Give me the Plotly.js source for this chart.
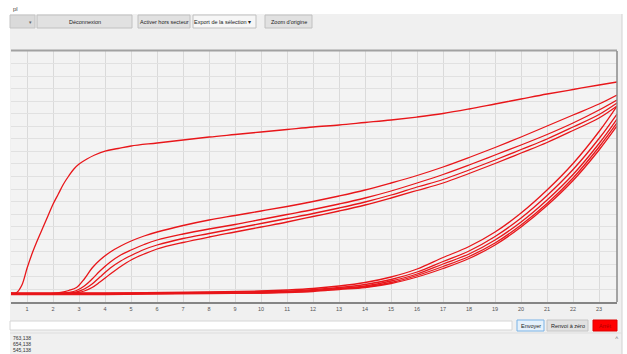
<!DOCTYPE html>
<html>
<head>
<meta charset="utf-8">
<script src="https://cdn.plot.ly/plotly-3.0.1.min.js"></script>
<style>
html,body{margin:0;padding:0;background:#fff;}
#chart{width:627px;height:354px;}
</style>
</head>
<body>
<div id="chart"></div>
<script>
// ---- data (x = cycle, y = raw signal, arbitrary units) ----
const tickValues = [1,2,3,4,5,6,7,8,9,10,11,12,13,14,15,16,17,18,19,20,21,22,23];
const tickLabels = ["1","2","3","4","5","6","7","8","9","10","11","12","13","14","15","16","17","18","19","20","21","22","23"];

const curveA_x = [0.38,0.6,0.8,1.0,1.2,1.4,1.6,1.8,2.0,2.2,2.4,2.6,2.8,3.0,3.3,3.6,4.0,4.5,5,6,7,8,9,10,11,12,13,14,15,16,17,18,19,20,21,22,23,23.69];
const curveA_y = [9,9.5,17,34,49,62,74,86,98,108,118,126,133,138,143,147,151,153.5,156,159,162,165,167.5,170,172.5,175,177,179.5,182,185,188.5,193,198,203,208,212.5,217,220];

const groupB_x = [0.38,1.5,2.0,2.3,2.6,2.9,3.2,3.5,3.8,4.2,4.6,5,5.5,6,7,8,9,10,11,12,13,14,15,16,17,18,19,20,21,22,23,23.69];
const curveB1_y = [8,8,8.5,9.5,11.5,14.5,23,34,42,50,56,61,66,70,76.5,82,86.5,91,95.5,100.5,106,112,119,126.5,135,144.5,154.5,165,176,187,198,207];
const curveB2_y = [8,8,8,8.5,9.5,11.5,16,23,31,40,47,52,57.5,62,68,73,77.5,82.5,87.5,92.5,98,104,111,119,127.5,137,147,157,167.5,179,192,202];
const curveB3_y = [8,8,8,8,8.5,10,13,18,25,34,41,46.5,52.5,57,63.5,68.5,73.5,78.5,83.5,88.5,94,100,107,115,122.5,132,142,152.5,163,175,187.5,199];
const curveB4_y = [8,8,8,8,8,9,11,14.5,20,28,35.5,42,48,53,59.5,65,70,75,80,85.5,91,97,104,111.5,119,128.5,138.5,149,159.5,171.5,184,196];

const groupC_x = [0.38,4,8,10,11,12,13,14,15,16,17,18,19,20,21,22,23,23.69];
const curveC1_y = [9,9,10,11,12,13.5,16,19.5,25,33,44.5,55.5,70,89,112,138.5,170.5,196];
const curveC2_y = [8.5,8.5,9.5,10.5,11,12.5,14.5,17.5,22.5,30,40.5,51,65.5,84,106.5,132.5,163.5,188];
const curveC3_y = [8,8,9,9.5,10.5,11.5,13.5,16,21,28,38,48,62,80,102,127.5,158.5,183];
const curveC4_y = [8,8,9,9,10,11,13,15,19.5,26.5,35.5,45.5,59,77,98.5,124,155,179];
const curveC5_y = [7.5,7.5,8.5,9,9.5,10.5,12.5,14.5,18.5,25,33.5,43.5,57,75,96.5,121.5,152,176];

const logLines = ["763,138","654,138","545,138"];

// ---- layout helpers (pixel -> paper coordinates) ----
const W = 627, H = 354, L = 11, R = 617, T = 51, B = 302;
const px = v => (v - L) / (R - L);
const py = v => (B - v) / (B - T);

const red = 'rgb(232,22,26)';
function curve(x, y){
  return {x:x, y:y, type:'scatter', mode:'lines', line:{color:red, width:1.3, shape:'spline', smoothing:1}, hoverinfo:'skip', showlegend:false};
}
const traces = [
  curve(curveA_x, curveA_y),
  curve(groupB_x, curveB1_y), curve(groupB_x, curveB2_y), curve(groupB_x, curveB3_y), curve(groupB_x, curveB4_y),
  curve(groupC_x, curveC1_y), curve(groupC_x, curveC2_y), curve(groupC_x, curveC3_y), curve(groupC_x, curveC4_y), curve(groupC_x, curveC5_y)
];

function rect(x0,y0,x1,y1,fill,line,lw){
  return {type:'rect', xref:'paper', yref:'paper', x0:px(x0), x1:px(x1), y0:py(y1), y1:py(y0),
          fillcolor:fill, line:{color:line||fill, width:(lw===undefined?1:lw)}, layer:'above'};
}
function hline(x0,x1,y,color,w){
  return {type:'line', xref:'paper', yref:'paper', x0:px(x0), x1:px(x1), y0:py(y), y1:py(y), line:{color:color,width:w}};
}
function vline(x,y0,y1,color,w){
  return {type:'line', xref:'paper', yref:'paper', x0:px(x), x1:px(x), y0:py(y0), y1:py(y1), line:{color:color,width:w}};
}
function label(x,y,text,opts){
  opts = opts || {};
  return {xref:'paper', yref:'paper', x:px(x), y:py(y), text:text, showarrow:false,
          xanchor:opts.xanchor||'center', yanchor:'middle',
          font:{family:'Liberation Sans, Arial, sans-serif', size:opts.size||5.5, color:opts.color||'#222'}};
}

const shapes = [
  // white window margins
  rect(0,0,W,14,'#ffffff','#ffffff',0),
  rect(0,0,10,H,'#ffffff','#ffffff',0),
  rect(622,0,W,H,'#ffffff','#ffffff',0),
  vline(622,14,H,'#d2d2d2',1),
  // toolbar buttons
  rect(10,15,35,28,'#dadada','#c4c4c4',1),
  rect(37,15,132,28,'#e1e1e1','#c0c0c0',1),
  rect(138,15,190,28,'#e1e1e1','#c0c0c0',1),
  rect(193,15,256,28,'#f6f6f6','#c0c0c0',1),
  rect(265,15,312,28,'#e1e1e1','#c0c0c0',1),
  // plot frame
  hline(11,617,50.5,'#a2a2a2',2),
  vline(617,51,302,'#8a8a8a',1.5),
  // bottom controls
  rect(10,321,512,330,'#ffffff','#d6d6d6',1),
  rect(517,320,544,331,'#e5f1fb','#7ab3e6',1),
  rect(547,320,588,331,'#e1e1e1','#c6c6c6',1),
  rect(593,320,617,331,'#ff0000','#e00000',1),
  // log panel
  hline(10,622,333,'#dedede',1)
];

const annotations = [
  label(11,9,'pl',{xanchor:'left',size:6,color:'#444'}),
  label(31,21.5,'▾',{size:5,color:'#666'}),
  label(84.5,21.5,'Déconnexion'),
  label(164,21.5,'Activer hors secteur'),
  label(222,21.5,'Export de la sélection ▾'),
  label(288.5,21.5,"Zoom d'origine"),
  label(530.5,325.5,'Envoyer'),
  label(567.5,325.5,'Renvoi à zéro'),
  label(605,325.5,'Arrêt',{color:'#b00000'}),
  label(617,338,'˄',{size:6,color:'#777'}),
  label(11,337.5,logLines[0],{xanchor:'left',size:5,color:'#333'}),
  label(11,343.5,logLines[1],{xanchor:'left',size:5,color:'#333'}),
  label(11,349.5,logLines[2],{xanchor:'left',size:5,color:'#333'})
];

const layout = {
  width:W, height:H,
  margin:{l:L, r:W-R, t:T, b:H-B, pad:0},
  paper_bgcolor:'#f0f0f0',
  plot_bgcolor:'#f3f3f3',
  showlegend:false,
  font:{family:'Liberation Sans, Arial, sans-serif', size:6, color:'#333'},
  xaxis:{
    range:[0.38,23.69], tickmode:'array', tickvals:tickValues, ticktext:tickLabels,
    ticks:'', tickfont:{size:5.5,color:'#555'},
    showgrid:true, gridcolor:'#dadada', gridwidth:1, zeroline:false,
    showline:true, linecolor:'#858585', linewidth:2, fixedrange:true
  },
  yaxis:{
    range:[0,251], tick0:0, dtick:12.55, showticklabels:false, ticks:'',
    showgrid:true, gridcolor:'#e1e1e1', gridwidth:1, zeroline:false,
    showline:false, fixedrange:true
  },
  shapes:shapes,
  annotations:annotations
};

Plotly.newPlot('chart', traces, layout, {displayModeBar:false, staticPlot:true});
</script>
</body>
</html>
